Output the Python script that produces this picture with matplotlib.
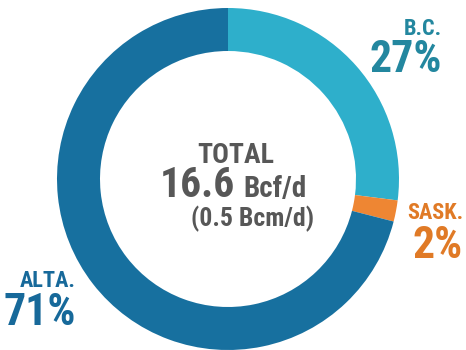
import matplotlib
matplotlib.use("Agg")
import matplotlib.pyplot as plt

# share of total supply, clockwise from 12 o'clock
regions = ["B.C.", "SASK.", "ALTA."]
shares = [27, 2, 71]
share_labels = ["27%", "2%", "71%"]
total_bcf = "16.6"
total_bcm = "0.5"

COLORS = ["#2EAFCB", "#EE8633", "#17709F"]
TEXT_COLORS = ["#23879F", "#E07A26", "#17699A"]
GRAY = "#575757"
FONT = ["Nimbus Sans Narrow", "Roboto Condensed", "Archivo Narrow", "Barlow Condensed", "DejaVu Sans"]

fig = plt.figure(figsize=(4.66, 3.5), dpi=100)
ax = fig.add_axes([0, 0, 1, 1])

ax.pie(shares, colors=COLORS, radius=171, center=(228, 171), startangle=90,
       counterclock=False, wedgeprops=dict(width=43, linewidth=0))
ax.set_xlim(0, 466)
ax.set_ylim(0, 350)
ax.set_aspect("auto")
ax.axis("off")

# region labels: (right edge, name baseline, pct baseline)
pos = [(442, 315, 278), (463, 131, 92), (76, 63, 25)]
for (x, yn, yp), name, pct, c in zip(pos, regions, share_labels, TEXT_COLORS):
    ax.text(x, yn, name, ha="right", va="baseline", fontsize=16,
            fontweight="bold", color=c, family=FONT)
    ax.text(x, yp, pct, ha="right", va="baseline", fontsize=31.5,
            fontweight="bold", color=c, family=FONT)

# centre total
ax.text(236, 187, "TOTAL", ha="center", va="baseline", fontsize=20,
        fontweight="bold", color=GRAY, family=FONT)
ax.text(160, 153, total_bcf, ha="left", va="baseline", fontsize=30,
        fontweight="bold", color=GRAY, family=FONT)
ax.text(243, 153, "Bcf/d", ha="left", va="baseline", fontsize=21,
        fontweight="bold", color=GRAY, family=FONT)
ax.text(253, 124, f"({total_bcm} Bcm/d)", ha="center", va="baseline", fontsize=18.5,
        fontweight="bold", color=GRAY, family=FONT)

fig.savefig("out.png", dpi=100)
